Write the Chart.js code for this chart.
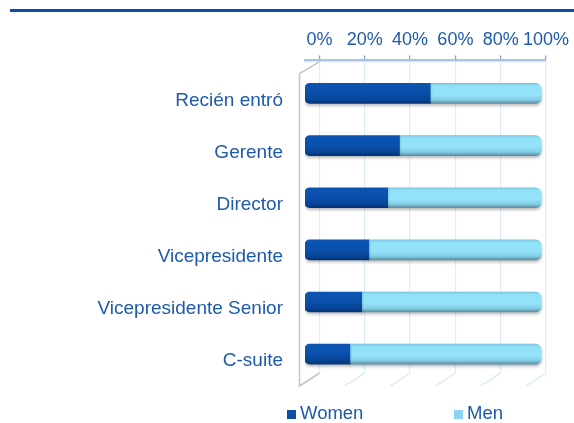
<!DOCTYPE html>
<html>
<head>
<meta charset="utf-8">
<script src="https://cdn.jsdelivr.net/npm/chart.js@4/dist/chart.umd.min.js"></script>
<style>
  html, body { margin: 0; padding: 0; background: #ffffff; }
  #wrap { position: relative; width: 574px; height: 423px; overflow: hidden; font-family: "Liberation Sans", Arial, sans-serif; }
  #topline { position: absolute; left: 10px; right: 0; top: 9px; height: 3px; background: #0b4ea2; }
  #chart { position: absolute; left: 0; top: 0; }
  #legend { position: absolute; top: 402px; left: 0; width: 574px; height: 22px; }
  .item { position: absolute; top: 0; display: flex; align-items: center; color: #1d5aab; font-size: 18.5px; line-height: 22px; }
  .sw { width: 9px; height: 9px; margin-right: 4px; margin-top: 2px; }
</style>
</head>
<body>
<div id="wrap">
  <div id="topline"></div>
  <canvas id="chart" width="574" height="423"></canvas>
  <div id="legend"></div>
</div>
<script>
const categories = ['Recién entró', 'Gerente', 'Director', 'Vicepresidente', 'Vicepresidente Senior', 'C-suite'];
const women = [53, 40, 35, 27, 24, 19];
const men = [47, 60, 65, 73, 76, 81];
const tickValues = [0, 20, 40, 60, 80, 100];
const seriesNames = ['Women', 'Men'];

const textColor = '#1d5aab';
const swatchColors = ['#0a4fa8', '#8dd3f1'];
const legendLeft = [287, 454];

const legend = document.getElementById('legend');
seriesNames.forEach((name, i) => {
  const item = document.createElement('div');
  item.className = 'item';
  item.style.left = legendLeft[i] + 'px';
  const sw = document.createElement('span');
  sw.className = 'sw';
  sw.style.background = swatchColors[i];
  const tx = document.createElement('span');
  tx.textContent = name;
  item.appendChild(sw);
  item.appendChild(tx);
  legend.appendChild(item);
});

function gradientFor(ctx, stops, fallback) {
  const chart = ctx.chart;
  const ys = chart.scales && chart.scales.y;
  if (!ys || ctx.type !== 'data') return fallback;
  const yc = ys.getPixelForValue(ctx.dataIndex);
  if (!isFinite(yc)) return fallback;
  const g = chart.ctx.createLinearGradient(0, yc - 10, 0, yc + 10);
  stops.forEach(s => g.addColorStop(s[0], s[1]));
  return g;
}

const womenStops = [[0, '#0d55b0'], [0.45, '#0a51ad'], [0.8, '#07469a'], [1, '#043474']];
const menStops = [[0, '#7cc6de'], [0.12, '#90e0f8'], [0.55, '#95e4fc'], [0.82, '#84cde6'], [1, '#5a8ea3']];

const depth = {
  id: 'depth',
  beforeDatasetsDraw(chart) {
    const c = chart.ctx;
    const x2 = chart.scales.x2;
    const a = chart.chartArea;
    const dx = -20, dy = 13;
    c.save();
    c.strokeStyle = '#d3e9f7';
    c.lineWidth = 1.2;
    tickValues.forEach(v => {
      const x = x2.getPixelForValue(v);
      c.beginPath();
      c.moveTo(x, a.bottom);
      c.lineTo(x + dx, a.bottom + dy);
      c.stroke();
    });
    const x0 = x2.getPixelForValue(0);
    c.strokeStyle = '#c6c6c6';
    c.lineWidth = 1.5;
    c.beginPath();
    c.moveTo(x0, a.top + 1);
    c.lineTo(x0 + dx, a.top + dy);
    c.lineTo(x0 + dx, a.bottom + dy);
    c.lineTo(x0, a.bottom);
    c.stroke();
    c.restore();
    c.save();
    c.shadowColor = 'rgba(60,60,60,0.35)';
    c.shadowOffsetY = 2;
    c.shadowOffsetX = 0;
    c.shadowBlur = 3;
  },
  afterDatasetsDraw(chart) {
    chart.ctx.restore();
  }
};

new Chart(document.getElementById('chart'), {
  type: 'bar',
  data: {
    datasets: [
      {
        label: seriesNames[0],
        data: women.map((v, i) => ({ x: v, y: i })),
        backgroundColor: ctx => gradientFor(ctx, womenStops, swatchColors[0]),
        borderWidth: 0,
        borderSkipped: false,
        borderRadius: { topLeft: 5, bottomLeft: 5, topRight: 0, bottomRight: 0 },
        barThickness: 20,
        xAxisID: 'x',
        yAxisID: 'y'
      },
      {
        label: seriesNames[1],
        data: men.map((v, i) => ({ x: v, y: i })),
        backgroundColor: ctx => gradientFor(ctx, menStops, swatchColors[1]),
        borderWidth: 0,
        borderSkipped: false,
        borderRadius: { topLeft: 0, bottomLeft: 0, topRight: 6, bottomRight: 6 },
        barThickness: 20,
        xAxisID: 'x',
        yAxisID: 'y'
      }
    ]
  },
  options: {
    indexAxis: 'y',
    responsive: false,
    animation: false,
    events: [],
    layout: { padding: { left: 0, right: 26, top: 24, bottom: 50 } },
    plugins: { legend: { display: false }, tooltip: { enabled: false } },
    scales: {
      x: {
        type: 'linear',
        stacked: true,
        min: 0,
        max: 102,
        display: false
      },
      x2: {
        type: 'linear',
        position: 'top',
        min: -6.4,
        max: 100,
        afterBuildTicks: s => { s.ticks = tickValues.map(v => ({ value: v })); },
        ticks: {
          callback: v => v + '%',
          color: textColor,
          font: { family: '"Liberation Sans", Arial, sans-serif', size: 18 },
          padding: 5,
          maxRotation: 0,
          autoSkip: false
        },
        grid: { color: '#dcedf9', lineWidth: 1.2, tickColor: '#7f9fcf', tickLength: 5, drawTicks: true },
        border: { display: true, color: '#aac4e6', width: 2.5 }
      },
      y: {
        type: 'linear',
        stacked: true,
        reverse: true,
        offset: false,
        min: -0.63,
        max: 5.362,
        afterBuildTicks: s => { s.ticks = categories.map((c, i) => ({ value: i })); },
        afterFit: s => { s.width = 305; },
        ticks: {
          callback: v => categories[v],
          color: textColor,
          font: { family: '"Liberation Sans", Arial, sans-serif', size: 19 },
          padding: 22,
          labelOffset: 7
        },
        grid: { display: false, drawTicks: false, offset: false },
        border: { display: false }
      }
    }
  },
  plugins: [depth]
});
</script>
</body>
</html>
